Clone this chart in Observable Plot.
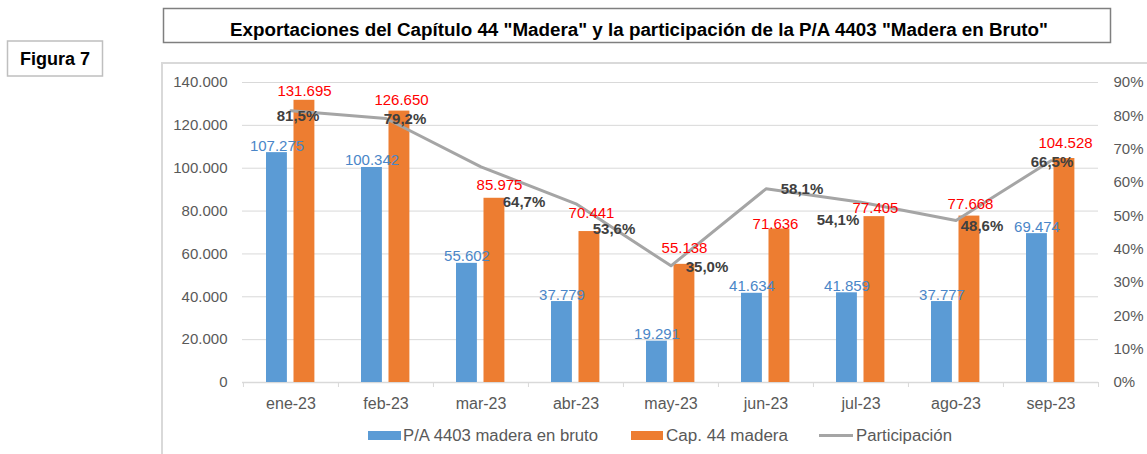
<!DOCTYPE html>
<html>
<head>
<meta charset="utf-8">
<script src="https://cdn.jsdelivr.net/npm/d3@7"></script>
<script src="https://cdn.jsdelivr.net/npm/@observablehq/plot@0.6"></script>
<style>
  html, body { margin: 0; padding: 0; background: #fff; }
  #wrap { position: relative; width: 1147px; height: 454px; overflow: hidden; font-family: "Liberation Sans", Arial, sans-serif; }
  #chartBorder { position: absolute; left: 161px; top: 62px; width: 1100px; height: 500px; border: 2px solid #d9d9d9; box-sizing: border-box; }
  #chart { position: absolute; left: 0; top: 0; }
  #overlay { position: absolute; left: 0; top: 0; }
</style>
</head>
<body>
<div id="wrap">
  <div id="chartBorder"></div>
  <div id="chart"></div>
  <svg id="overlay" width="1147" height="454" xmlns="http://www.w3.org/2000/svg"></svg>
</div>
<script>
// ---- Data ----
const months = ["ene-23", "feb-23", "mar-23", "abr-23", "may-23", "jun-23", "jul-23", "ago-23", "sep-23"];
const partidaValues = [107275, 100342, 55602, 37779, 19291, 41634, 41859, 37777, 69474];   // P/A 4403 madera en bruto
const capituloValues = [131695, 126650, 85975, 70441, 55138, 71636, 77405, 77668, 104528]; // Cap. 44 madera
const participacion = [81.5, 79.2, 64.7, 53.6, 35.0, 58.1, 54.1, 48.6, 66.5];            // %
const leftTicks = [0, 20000, 40000, 60000, 80000, 100000, 120000, 140000];
const rightTicks = [0, 10, 20, 30, 40, 50, 60, 70, 80, 90];
const seriesNames = ["P/A 4403 madera en bruto", "Cap. 44 madera", "Participación"];
const titleText = 'Exportaciones del Capítulo 44 "Madera" y la participación de la P/A 4403 "Madera en Bruto"';
const figureText = "Figura 7";

// ---- Label nudges (pixel offsets, styling only) ----
const pctLabelNudges = [[7, 10], [19, 5], [43, 40], [38, 30], [36, 6], [36, 5], [-23, 23], [26, 10], [1, 6]];
const capLabelNudges = [[0, 4], [2, 6], [5, 8], [2, 14], [0, 11], [-4, 0], [1, 4], [1, 7], [1, 11]];

const yMax = 140000, pctMax = 90;
const toY = p => p / pctMax * yMax;
const fmt = d => d3.format(",")(d).replace(/,/g, ".");
const pctFmt = p => p.toFixed(1).replace(".", ",") + "%";

const partRows = months.map((m, i) => ({month: m, value: partidaValues[i]}));
const capRows = months.map((m, i) => ({month: m, value: capituloValues[i]}));
const pctRows = months.map((m, i) => ({month: m, pct: participacion[i]}));

const W = 1147, H = 454, ML = 242, MR = 49, MT = 82, MB = 72;
const bw = (W - ML - MR) / months.length;

const BLUE = "#5b9bd5", ORANGE = "#ed7d31", GRAY = "#a5a5a5", AX = "#595959", GRID = "#d9d9d9";

const marks = [
  Plot.gridY(leftTicks, {stroke: GRID, strokeOpacity: 1}),
  Plot.ruleY([0], {stroke: GRID, strokeWidth: 1.3}),
  Plot.axisX({tickSize: 5, tickFormat: () => "", stroke: GRID, dx: -bw / 2, label: null}),
  Plot.axisX([months[months.length - 1]], {tickSize: 5, tickFormat: () => "", stroke: GRID, dx: bw / 2, label: null}),
  Plot.axisX({tickSize: 0, tickPadding: 15, fontSize: 16, fill: AX, label: null}),
  Plot.axisY(leftTicks, {anchor: "left", tickSize: 0, tickPadding: 15, tickFormat: fmt, fill: AX, fontSize: 15, label: null}),
  Plot.axisY(rightTicks.map(toY), {anchor: "right", tickSize: 0, tickPadding: 15, tickFormat: d => Math.round(d / yMax * pctMax) + "%", fill: AX, fontSize: 15, label: null}),
  Plot.barY(partRows, {x: "month", y: "value", fill: BLUE, insetLeft: 23, insetRight: bw - 44}),
  Plot.barY(capRows, {x: "month", y: "value", fill: ORANGE, insetLeft: 50.5, insetRight: bw - 71.5}),
  Plot.line(pctRows, {x: "month", y: d => toY(d.pct), stroke: GRAY, strokeWidth: 3}),
  Plot.text(partRows, {x: "month", y: "value", text: d => fmt(d.value), dx: -14, dy: -2, lineAnchor: "bottom", fill: "#4a86c8", fontSize: 15})
];
capRows.forEach((r, i) => {
  marks.push(Plot.text([r], {x: "month", y: "value", text: d => fmt(d.value), dx: 13.5 + capLabelNudges[i][0], dy: -capLabelNudges[i][1], lineAnchor: "bottom", fill: "#ff0000", fontSize: 15}));
});
pctRows.forEach((r, i) => {
  marks.push(Plot.text([r], {x: "month", y: d => toY(d.pct), text: d => pctFmt(d.pct), dx: pctLabelNudges[i][0], dy: pctLabelNudges[i][1], lineAnchor: "bottom", fill: "#404040", fontWeight: "bold", fontSize: 15}));
});

const chart = Plot.plot({
  width: W, height: H,
  marginLeft: ML, marginRight: MR, marginTop: MT, marginBottom: MB,
  style: {fontFamily: "'Liberation Sans', Arial, sans-serif", fontSize: "15px", background: "transparent", overflow: "visible"},
  x: {type: "band", domain: months, paddingInner: 0, paddingOuter: 0, axis: null},
  y: {domain: [0, yMax], axis: null},
  marks
});
document.getElementById("chart").appendChild(chart);

// ---- Title, figure label and legend (overlay) ----
const ov = d3.select("#overlay");
const ff = "'Liberation Sans', Arial, sans-serif";
ov.append("rect").attr("x", 163.5).attr("y", 8.5).attr("width", 947).attr("height", 34)
  .attr("fill", "none").attr("stroke", "#7f7f7f").attr("stroke-width", 1.5);
ov.append("text").attr("x", 639).attr("y", 35.5).attr("text-anchor", "middle")
  .attr("font-family", ff).attr("font-weight", "bold").attr("font-size", 18).attr("fill", "#000")
  .attr("textLength", 818).attr("lengthAdjust", "spacingAndGlyphs").text(titleText);
ov.append("rect").attr("x", 7.5).attr("y", 41).attr("width", 95).attr("height", 35)
  .attr("fill", "none").attr("stroke", "#bfbfbf").attr("stroke-width", 1.5);
ov.append("text").attr("x", 55).attr("y", 65).attr("text-anchor", "middle")
  .attr("font-family", ff).attr("font-weight", "bold").attr("font-size", 18).attr("fill", "#000").text(figureText);

const leg = ov.append("g").attr("font-family", ff).attr("font-size", 16).attr("fill", AX);
leg.append("rect").attr("x", 368).attr("y", 431).attr("width", 33).attr("height", 9).attr("fill", BLUE);
leg.append("text").attr("x", 403).attr("y", 441).attr("textLength", 195).attr("lengthAdjust", "spacingAndGlyphs").text(seriesNames[0]);
leg.append("rect").attr("x", 631).attr("y", 431).attr("width", 32).attr("height", 9).attr("fill", ORANGE);
leg.append("text").attr("x", 666).attr("y", 441).attr("textLength", 122).attr("lengthAdjust", "spacingAndGlyphs").text(seriesNames[1]);
leg.append("line").attr("x1", 819).attr("x2", 853).attr("y1", 435.5).attr("y2", 435.5).attr("stroke", GRAY).attr("stroke-width", 3);
leg.append("text").attr("x", 856).attr("y", 441).attr("textLength", 96).attr("lengthAdjust", "spacingAndGlyphs").text(seriesNames[2]);
</script>
</body>
</html>
